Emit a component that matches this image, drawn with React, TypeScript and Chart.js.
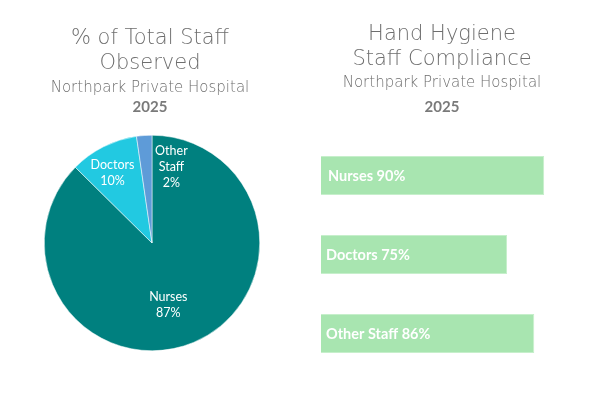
import React, { useEffect, useRef } from "react";
import { Chart, registerables } from "chart.js";

Chart.register(...registerables);

const pieCategories = ["Nurses", "Doctors", "Other Staff"];
const pieValues = [87.4, 10.3, 2.3];
const pieLabelLines = [["Nurses", "87%"], ["Doctors", "10%"], ["Other", "Staff", "2%"]];
const pieColors = ["#00807F", "#22C9E1", "#5E9BD8"];

const barCategories = ["Nurses", "Doctors", "Other Staff"];
const barValues = [90, 75, 86];
const barLabels = ["Nurses 90%", "Doctors 75%", "Other Staff 86%"];

const leftTitle = ["% of Total Staff", "Observed"];
const rightTitle = ["Hand Hygiene", "Staff Compliance"];
const subtitleText = "Northpark Private Hospital";
const yearText = "2025";

const TITLE_FONT = "'DejaVu Sans', sans-serif";
const LABEL_FONT = "Lato, 'Open Sans', sans-serif";

function headerPlugin(id: string, titleLines: string[], cx: number, ys: number[], titleSize: number, subSize: number) {
  return {
    id,
    afterDraw(chart: any) {
      const ctx = chart.ctx;
      ctx.save();
      ctx.fillStyle = "#6E6E6E";
      ctx.textAlign = "center";
      ctx.textBaseline = "middle";
      ctx.font = `300 ${titleSize}px ${TITLE_FONT}`;
      ctx.fillText(titleLines[0], cx, ys[0]);
      ctx.fillText(titleLines[1], cx, ys[1]);
      ctx.font = `300 ${subSize}px ${TITLE_FONT}`;
      ctx.fillText(subtitleText, cx, ys[2]);
      ctx.fillStyle = "#7A7A7A";
      ctx.font = `bold 15px ${LABEL_FONT}`;
      ctx.fillText(yearText, cx, ys[3]);
      ctx.restore();
    },
  };
}

const pieLabelPlugin = {
  id: "pieLabels",
  afterDatasetsDraw(chart: any) {
    const ctx = chart.ctx;
    const meta = chart.getDatasetMeta(0);
    const radial = [0.61, 0.77, 0.72];
    const shiftX = [-9, -2, 25];
    ctx.save();
    ctx.fillStyle = "#FFFFFF";
    ctx.textAlign = "center";
    ctx.textBaseline = "middle";
    ctx.font = `12.5px ${LABEL_FONT}`;
    meta.data.forEach((arc: any, i: number) => {
      const p = arc.getProps(["x", "y", "startAngle", "endAngle", "outerRadius"], true);
      const mid = (p.startAngle + p.endAngle) / 2;
      const r = p.outerRadius * radial[i];
      const x = p.x + Math.cos(mid) * r + shiftX[i];
      const y = p.y + Math.sin(mid) * r + (i === 1 ? 4 : 1);
      const lines = pieLabelLines[i];
      const lh = 16;
      lines.forEach((t, j) => {
        ctx.fillText(t, x, y + (j - (lines.length - 1) / 2) * lh);
      });
    });
    ctx.restore();
  },
};

const barLabelPlugin = {
  id: "barLabels",
  afterDatasetsDraw(chart: any) {
    const ctx = chart.ctx;
    const meta = chart.getDatasetMeta(0);
    ctx.save();
    ctx.fillStyle = "#FFFFFF";
    ctx.textAlign = "left";
    ctx.textBaseline = "middle";
    ctx.font = `bold 14.5px ${LABEL_FONT}`;
    meta.data.forEach((bar: any, i: number) => {
      const p = bar.getProps(["base", "y"], true);
      ctx.fillText(barLabels[i], p.base + (i === 0 ? 7 : 5), p.y + 1);
    });
    ctx.restore();
  },
};

export default function App() {
  const pieRef = useRef<HTMLCanvasElement>(null);
  const barRef = useRef<HTMLCanvasElement>(null);

  useEffect(() => {
    const pie = new Chart(pieRef.current!, {
      type: "pie",
      data: {
        labels: pieCategories,
        datasets: [
          {
            data: pieValues,
            backgroundColor: pieColors,
            borderColor: "#FFFFFF",
            borderWidth: 0.5,
          },
        ],
      },
      options: {
        animation: false,
        responsive: false,
        maintainAspectRatio: false,
        layout: { padding: { left: 44, right: 40, top: 135, bottom: 61 } },
        plugins: { legend: { display: false }, tooltip: { enabled: false } },
      },
      plugins: [pieLabelPlugin, headerPlugin("leftHeader", leftTitle, 150, [39, 64, 88, 107], 21, 15)],
    });

    const bar = new Chart(barRef.current!, {
      type: "bar",
      data: {
        labels: barCategories,
        datasets: [
          {
            data: barValues,
            backgroundColor: "#A8E5B0",
            borderColor: "#C6EFCB",
            borderWidth: 1,
            categoryPercentage: 1,
            barPercentage: 0.494,
          },
        ],
      },
      options: {
        indexAxis: "y",
        animation: false,
        responsive: false,
        maintainAspectRatio: false,
        layout: { padding: { left: 21, right: 27, top: 136, bottom: 39 } },
        scales: {
          x: { display: false, min: 0, max: 100 },
          y: { display: false },
        },
        plugins: { legend: { display: false }, tooltip: { enabled: false } },
      },
      plugins: [barLabelPlugin, headerPlugin("rightHeader", rightTitle, 142, [35, 60, 83, 107], 21, 15)],
    });

    return () => {
      pie.destroy();
      bar.destroy();
    };
  }, []);

  return (
    <div style={{ position: "fixed", left: 0, top: 0, width: 596, height: 412, background: "#FFFFFF" }}>
      <canvas ref={pieRef} width={300} height={412} style={{ position: "absolute", left: 0, top: 0, width: 300, height: 412 }} />
      <canvas ref={barRef} width={296} height={412} style={{ position: "absolute", left: 300, top: 0, width: 296, height: 412 }} />
    </div>
  );
}
